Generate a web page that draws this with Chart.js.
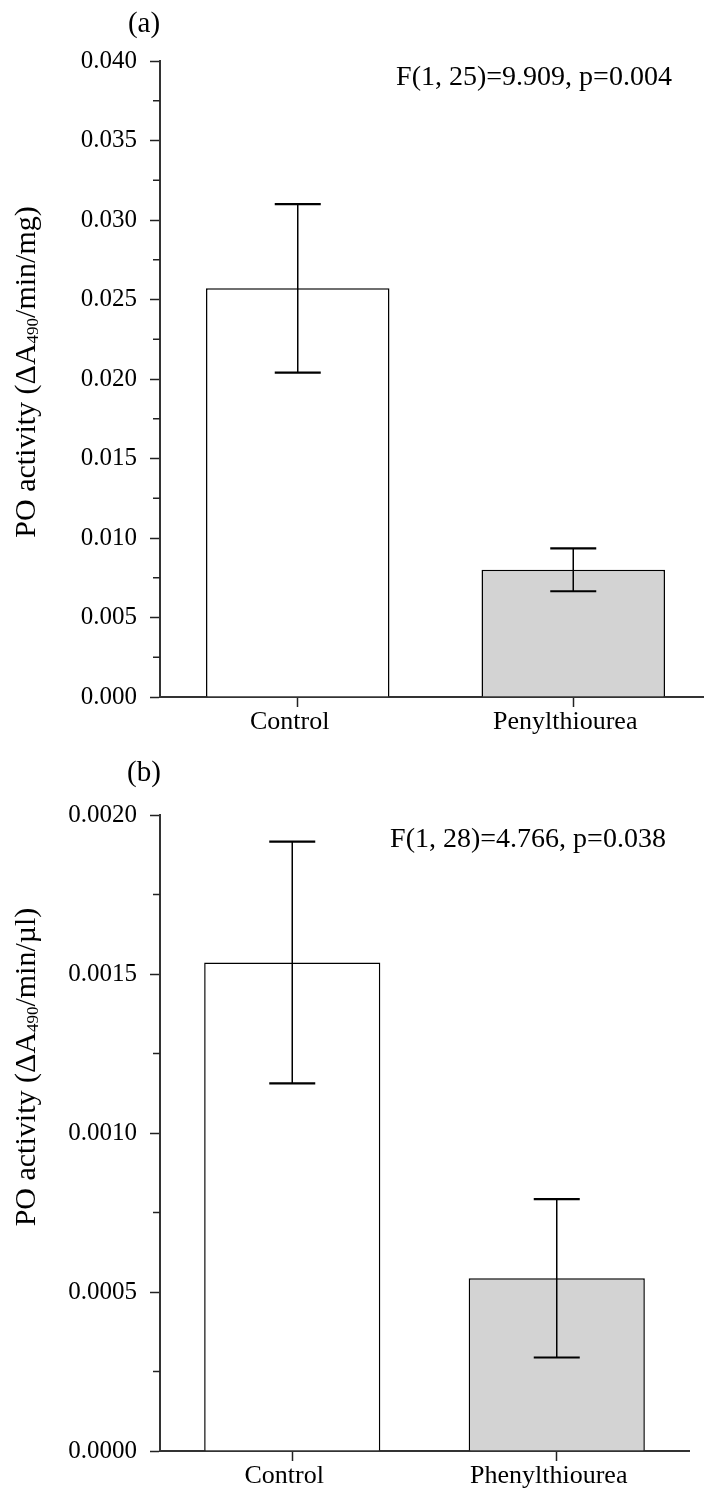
<!DOCTYPE html>
<html>
<head>
<meta charset="utf-8">
<script src="https://cdn.jsdelivr.net/npm/chart.js@4.4.1/dist/chart.umd.min.js"></script>
<style>
html, body { margin: 0; padding: 0; background: #fff; overflow: hidden; width: 704px; height: 1490px; position: relative; }
canvas { position: absolute; left: 0; }
#chartA { top: 0; }
#chartB { top: 745px; }
</style>
</head>
<body>
<canvas id="chartA" width="712" height="745"></canvas>
<canvas id="chartB" width="704" height="745"></canvas>
<script>
// panel (a)
const labelsA = ['Control', 'Penylthiourea'];
const meanA = [0.0257, 0.0080];
const errA = [0.0053, 0.00135];
const ticksA = [0, 0.005, 0.010, 0.015, 0.020, 0.025, 0.030, 0.035, 0.040];
const statA = 'F(1, 25)=9.909, p=0.004';

// panel (b)
const labelsB = ['Control', 'Phenylthiourea'];
const meanB = [0.001536, 0.000543];
const errB = [0.00038, 0.000249];
const ticksB = [0, 0.0005, 0.0010, 0.0015, 0.0020];
const statB = 'F(1, 28)=4.766, p=0.038';

const fillColors = ['#ffffff', '#d3d3d3'];
const serif = "'Liberation Serif', 'Times New Roman', serif";

Chart.defaults.font.family = serif;
Chart.defaults.color = '#000';

// error bars, minor ticks and the loose text
const extras = {
	id: 'extras',
	afterDatasetsDraw(chart, args, opts) {
		const ctx = chart.ctx;
		const y = chart.scales.y;
		const meta = chart.getDatasetMeta(0);
		ctx.save();
		ctx.strokeStyle = '#000';
		opts.mean.forEach(function (m, i) {
			const bx = meta.data[i].x;
			const yt = y.getPixelForValue(m + opts.err[i]);
			const yb = y.getPixelForValue(m - opts.err[i]);
			ctx.lineWidth = 1.5;
			ctx.beginPath();
			ctx.moveTo(bx, yt);
			ctx.lineTo(bx, yb);
			ctx.stroke();
			ctx.lineWidth = 2.2;
			ctx.beginPath();
			ctx.moveTo(bx - 23, yt); ctx.lineTo(bx + 23, yt);
			ctx.moveTo(bx - 23, yb); ctx.lineTo(bx + 23, yb);
			ctx.stroke();
		});
		ctx.restore();
	},
	afterDraw(chart, args, opts) {
		const ctx = chart.ctx;
		const y = chart.scales.y;
		const left = chart.chartArea.left;
		const t = opts.ticks;
		const half = (t[1] - t[0]) / 2;
		ctx.save();
		ctx.strokeStyle = '#222';
		ctx.lineWidth = 1.5;
		for (let i = 0; i < t.length - 1; i++) {
			const py = y.getPixelForValue(t[i] + half);
			ctx.beginPath();
			ctx.moveTo(left - 7, py);
			ctx.lineTo(left, py);
			ctx.stroke();
		}

		ctx.fillStyle = '#000';
		ctx.textBaseline = 'middle';
		ctx.textAlign = 'center';
		ctx.font = '29px ' + serif;
		ctx.fillText(opts.letter, 144, opts.letterY);
		ctx.font = '28px ' + serif;
		ctx.fillText(opts.stat, opts.statX, opts.statY);

		// rotated y title with a small 490
		const big = '30px ' + serif, small = '17px ' + serif;
		const parts = [[opts.title[0], big, 0], ['490', small, 3], [opts.title[1], big, 0]];
		let total = 0;
		parts.forEach(function (p) { ctx.font = p[1]; total += ctx.measureText(p[0]).width; });
		ctx.translate(35, opts.titleY);
		ctx.rotate(-Math.PI / 2);
		ctx.textAlign = 'left';
		ctx.textBaseline = 'alphabetic';
		let px = -total / 2;
		parts.forEach(function (p) {
			ctx.font = p[1];
			ctx.fillText(p[0], px, p[2]);
			px += ctx.measureText(p[0]).width;
		});
		ctx.restore();
	}
};

function makeChart(id, labels, mean, err, ticks, digits, pad, xHeight, extra) {
	return new Chart(document.getElementById(id), {
		type: 'bar',
		data: {
			labels: labels,
			datasets: [{
				data: mean,
				backgroundColor: fillColors,
				borderColor: '#000',
				borderWidth: 1.5,
				barPercentage: 0.666,
				categoryPercentage: 1.0
			}]
		},
		plugins: [extras],
		options: {
			responsive: false,
			animation: false,
			devicePixelRatio: 1,
			layout: { padding: pad },
			plugins: {
				legend: { display: false },
				tooltip: { enabled: false },
				extras: extra
			},
			scales: {
				x: {
					offset: true,
					grid: { offset: false, drawOnChartArea: false, tickLength: 10, tickColor: '#222', tickWidth: 1.5 },
					border: { display: true, color: '#333', width: 2 },
					ticks: { font: { size: 26 }, padding: 0, color: '#000', labelOffset: -8 },
					afterFit: function (s) { s.height = xHeight; }
				},
				y: {
					min: ticks[0],
					max: ticks[ticks.length - 1],
					afterBuildTicks: function (s) { s.ticks = ticks.map(function (v) { return { value: v }; }); },
					grid: { drawOnChartArea: false, tickLength: 10, tickColor: '#222', tickWidth: 1.5 },
					border: { display: true, color: '#333', width: 2 },
					ticks: {
						font: { size: 25 },
						padding: 13,
						color: '#000',
						callback: function (v) { return Number(v).toFixed(digits); }
					},
					afterFit: function (s) { s.width = 160; }
				}
			}
		}
	});
}

makeChart('chartA', labelsA, meanA, errA, ticksA, 3,
	{ top: 61, right: 1, bottom: 0, left: 0 }, 48,
	{ mean: meanA, err: errA, ticks: ticksA, letter: '(a)', letterY: 24, stat: statA, statX: 534, statY: 78,
	  title: ['PO activity (\u0394A', '/min/mg)'], titleY: 372 });

makeChart('chartB', labelsB, meanB, errB, ticksB, 4,
	{ top: 70, right: 15, bottom: 0, left: 0 }, 39,
	{ mean: meanB, err: errB, ticks: ticksB, letter: '(b)', letterY: 28, stat: statB, statX: 528, statY: 95,
	  title: ['PO activity (\u0394A', '/min/\u00b5l)'], titleY: 322 });
</script>
</body>
</html>
